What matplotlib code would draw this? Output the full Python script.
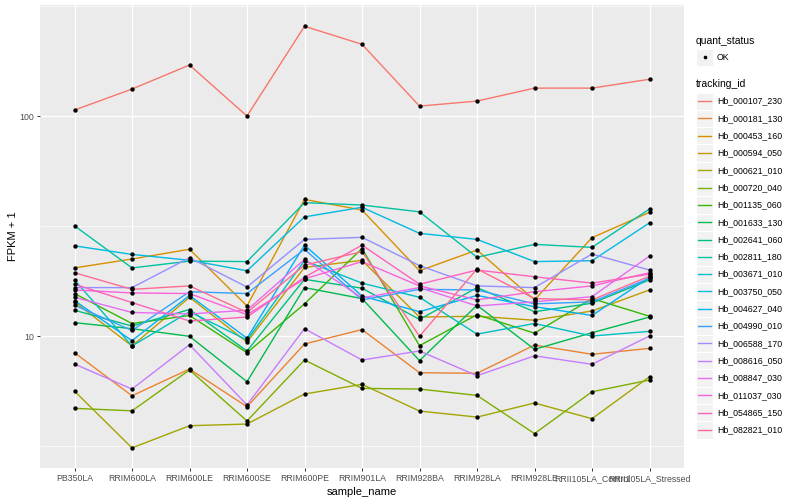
"""
Line chart of FPKM + 1 per sample for 20 tracking ids (ggplot look)

Output:
    - out.png
"""

import matplotlib
matplotlib.use("Agg")
import matplotlib.pyplot as plt
from matplotlib.patches import Rectangle
from matplotlib.ticker import FixedLocator, NullFormatter


# =========================
# Data
# =========================
samples = ["PB350LA", "RRIM600LA", "RRIM600LE", "RRIM600SE", "RRIM600PE",
           "RRIM901LA", "RRIM928BA", "RRIM928LA", "RRIM928LE",
           "RRII105LA_Control", "RRII105LA_Stressed"]

tracking_ids = ["Hb_000107_230", "Hb_000181_130", "Hb_000453_160", "Hb_000594_050",
                "Hb_000621_010", "Hb_000720_040", "Hb_001135_060", "Hb_001633_130",
                "Hb_002641_060", "Hb_002811_180", "Hb_003671_010", "Hb_003750_050",
                "Hb_004627_040", "Hb_004990_010", "Hb_006588_170", "Hb_008616_050",
                "Hb_008847_030", "Hb_011037_030", "Hb_054865_150", "Hb_082821_010"]

# ggplot hue palette for 20 levels
line_colors = ["#F8766D", "#EA8331", "#D89000", "#C09B00", "#A3A500", "#7CAE00",
               "#39B600", "#00BB4E", "#00BF7D", "#00C1A3", "#00BFC4", "#00BAE0",
               "#00B0F6", "#35A2FF", "#9590FF", "#C77CFF", "#E76BF3", "#FA62DB",
               "#FF62BC", "#FF6C91"]

# FPKM + 1 per sample
hb_000107_230 = [106.5, 132.7, 170.6, 100.0, 256.0, 212.0, 111.0, 117.0, 134.0, 134.0, 147.0]
hb_000181_130 = [8.40, 5.35, 7.08, 4.77, 9.20, 10.7, 6.81, 6.77, 9.10, 8.26, 8.79]
hb_000453_160 = [20.4, 22.4, 24.8, 13.7, 41.8, 37.4, 19.8, 24.6, 14.6, 28.0, 36.5]
hb_000594_050 = [14.3, 9.01, 15.0, 9.39, 20.5, 22.1, 12.2, 12.3, 11.8, 13.0, 16.2]
hb_000621_010 = [5.62, 3.10, 3.91, 3.98, 5.45, 6.03, 4.56, 4.28, 4.96, 4.21, 6.53]
hb_000720_040 = [4.69, 4.57, 7.01, 4.11, 7.78, 5.78, 5.74, 5.37, 3.60, 5.58, 6.31]
hb_001135_060 = [15.6, 11.4, 12.4, 8.40, 14.0, 25.0, 9.04, 12.5, 10.3, 14.8, 12.3]
hb_001633_130 = [11.5, 10.8, 9.97, 6.20, 16.6, 14.8, 7.73, 13.8, 8.70, 10.35, 12.2]
hb_002641_060 = [13.1, 11.1, 13.2, 8.55, 18.1, 16.5, 11.9, 16.6, 12.9, 14.1, 18.0]
hb_002811_180 = [31.7, 20.4, 21.9, 21.8, 40.4, 39.4, 36.7, 22.8, 26.1, 25.3, 37.8]
hb_003671_010 = [18.0, 9.01, 12.9, 9.59, 22.0, 17.4, 15.0, 10.2, 11.4, 10.0, 10.5]
hb_003750_050 = [25.7, 23.5, 22.1, 19.8, 34.8, 38.5, 29.3, 27.5, 21.8, 22.0, 32.7]
hb_004627_040 = [14.5, 9.52, 15.3, 9.77, 25.9, 15.2, 12.9, 15.3, 13.6, 12.4, 18.5]
hb_004990_010 = [13.8, 10.6, 15.9, 15.6, 24.8, 14.6, 16.3, 16.2, 14.0, 14.3, 18.3]
hb_006588_170 = [16.6, 16.6, 22.7, 16.7, 27.5, 28.1, 20.9, 16.9, 16.6, 23.6, 19.95]
hb_008616_050 = [7.46, 5.74, 9.13, 4.86, 10.8, 7.78, 8.55, 6.60, 8.13, 7.44, 10.0]
hb_008847_030 = [15.0, 12.8, 12.6, 13.1, 22.3, 14.9, 16.6, 13.7, 14.3, 15.1, 23.1]
hb_011037_030 = [16.2, 15.7, 15.6, 12.5, 18.2, 21.8, 16.9, 14.6, 15.9, 16.9, 19.4]
hb_054865_150 = [17.2, 14.2, 11.7, 12.2, 18.5, 25.9, 17.2, 19.95, 18.6, 17.4, 19.1]
hb_082821_010 = [19.4, 16.3, 16.9, 12.8, 21.0, 24.2, 9.97, 20.2, 14.8, 14.6, 18.7]

series = [hb_000107_230, hb_000181_130, hb_000453_160, hb_000594_050, hb_000621_010,
          hb_000720_040, hb_001135_060, hb_001633_130, hb_002641_060, hb_002811_180,
          hb_003671_010, hb_003750_050, hb_004627_040, hb_004990_010, hb_006588_170,
          hb_008616_050, hb_008847_030, hb_011037_030, hb_054865_150, hb_082821_010]

y_ticks = [10, 100]
y_tick_labels = ["10", "100"]


# =========================
# Style
# =========================
plt.rcParams["font.family"] = ["Liberation Sans", "DejaVu Sans"]
W, H = 800, 500

fig = plt.figure(figsize=(8, 5), dpi=100)
fig.patch.set_facecolor("white")

# panel in pixel coords: left 40, right 684, top 5, bottom 468
ax = fig.add_axes([40 / W, 1 - 468 / H, (684 - 40) / W, (468 - 5) / H])
ax.set_facecolor("#EBEBEB")
for s in ax.spines.values():
    s.set_visible(False)

x = list(range(len(samples)))

# lines first, points on top
for vals, col in zip(series, line_colors):
    ax.plot(x, vals, color=col, lw=1.0, zorder=3, solid_capstyle="butt")
for vals in series:
    ax.scatter(x, vals, color="black", s=10, zorder=4, linewidths=0)

ax.set_yscale("log")
ax.set_ylim(10 ** 0.4, 10 ** 2.505)
ax.set_xlim(-0.6, len(samples) - 0.4)

ax.yaxis.set_major_locator(FixedLocator(y_ticks))
ax.set_yticklabels(y_tick_labels)
ax.yaxis.set_minor_locator(FixedLocator([10 ** 0.5, 10 ** 1.5, 10 ** 2.5]))
ax.yaxis.set_minor_formatter(NullFormatter())
ax.set_xticks(x)
ax.set_xticklabels(samples)

ax.grid(which="major", color="white", lw=0.9, zorder=1)
ax.grid(which="minor", axis="y", color="white", lw=0.45, zorder=1)
ax.set_axisbelow(True)

ax.tick_params(which="major", length=2.5, width=0.7, color="#333333",
               labelsize=6.3, labelcolor="#4D4D4D", pad=2)
ax.tick_params(which="minor", length=0)

ax.set_xlabel("sample_name", fontsize=8, labelpad=3)
ax.set_ylabel("FPKM + 1", fontsize=8, labelpad=1)


# =========================
# Legends (drawn in pixel coords)
# =========================
lg = fig.add_axes([0, 0, 1, 1])
lg.set_xlim(0, W)
lg.set_ylim(H, 0)
lg.axis("off")

key_x, key_w, key_h = 696, 17, 17.3

lg.text(key_x, 41, "quant_status", fontsize=7.5, va="center", ha="left")
lg.add_patch(Rectangle((key_x, 48.5), key_w, key_h, facecolor="#F2F2F2",
                       edgecolor="white", lw=0.8))
lg.scatter([key_x + key_w / 2], [48.5 + key_h / 2], color="black", s=7, linewidths=0)
lg.text(key_x + key_w + 4, 48.5 + key_h / 2, "OK", fontsize=6.3, va="center", ha="left")

lg.text(key_x, 84, "tracking_id", fontsize=7.5, va="center", ha="left")
top = 92.5
for i, (name, col) in enumerate(zip(tracking_ids, line_colors)):
    y0 = top + i * key_h
    lg.add_patch(Rectangle((key_x, y0), key_w, key_h, facecolor="#F2F2F2",
                           edgecolor="white", lw=0.8))
    lg.plot([key_x + 2, key_x + key_w - 2], [y0 + key_h / 2] * 2, color=col, lw=1.0)
    lg.text(key_x + key_w + 4, y0 + key_h / 2, name, fontsize=6.3,
            va="center", ha="left")

fig.savefig("out.png", dpi=100)
